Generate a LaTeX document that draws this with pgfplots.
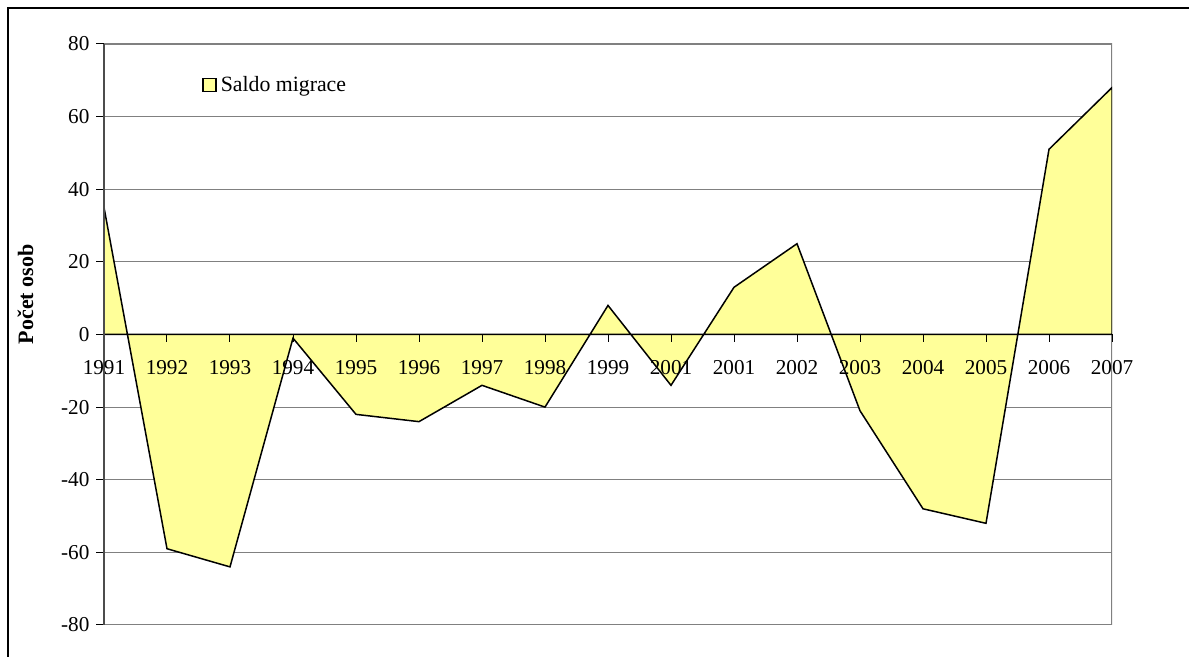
\documentclass[border=0pt]{standalone}
\usepackage{fontspec}
\setmainfont{Liberation Serif}
\usepackage{pgfplots}
\pgfplotsset{compat=1.18}
\definecolor{fillyel}{HTML}{FFFF99}
\definecolor{gridgray}{HTML}{808080}
\begin{document}
\begin{tikzpicture}[x=1pt,y=1pt]
\path[use as bounding box] (-52pt,-16pt) rectangle (542.5pt,312.5pt);
\begin{axis}[
  at={(0,0)}, anchor=south west,
  scale only axis, width=504pt, height=290.5pt,
  xmin=0, xmax=16, ymin=-80, ymax=80,
  axis on top,
  axis x line*=middle, axis y line*=left,
  hide obscured x ticks=false,
  x axis line style={black, line width=0.75pt, -},
  y axis line style={black!70, line width=0.9pt, -},
  xtick={0,...,16},
  xticklabels={1991,1992,1993,1994,1995,1996,1997,1998,1999,2001,2001,2002,2003,2004,2005,2006,2007},
  ytick={-80,-60,...,80},
  tick align=outside,
  major tick length=3.75pt,
  tick style={black, line width=0.5pt},
  font=\fontsize{10.5}{12}\selectfont,
  ticklabel style={font=\fontsize{10.6}{12}\selectfont},
  xticklabel style={yshift=-5.5pt},
  /pgf/number format/assume math mode=true,
  ylabel={Počet osob},
  ylabel style={font=\fontsize{11}{13}\selectfont\bfseries, at={(rel axis cs:-0.0779,0.569)}, anchor=center, rotate=0},
  legend style={draw=none, fill=none, at={(rel axis cs:0.0972,0.9294)}, anchor=west, inner sep=0pt, font=\fontsize{10.9}{12}\selectfont},
  legend image code/.code={\draw[#1, line width=0.7pt] (0pt,-3.25pt) rectangle (6.5pt,3.25pt);},
]
\pgfplotsinvokeforeach{-60,-40,-20,20,40,60}{
  \draw[gridgray, line width=0.5pt] (axis cs:0,#1) -- (axis cs:16,#1);
}
\draw[gridgray, line width=0.75pt] (rel axis cs:0,1) -- (rel axis cs:1,1) -- (rel axis cs:1,0) -- (rel axis cs:0,0);
\addplot[fill=fillyel, draw=black, line width=0.75pt] coordinates {
 (0,35) (1,-59) (2,-64) (3,-1) (4,-22) (5,-24) (6,-14) (7,-20) (8,8)
 (9,-14) (10,13) (11,25) (12,-21) (13,-48) (14,-52) (15,51) (16,68)
} \closedcycle;
\addlegendentry{Saldo migrace}
\end{axis}
\draw[black, line width=1pt] (-48pt,-16pt) -- (-48pt,308.5pt) -- (542.5pt,308.5pt);
\end{tikzpicture}
\end{document}
